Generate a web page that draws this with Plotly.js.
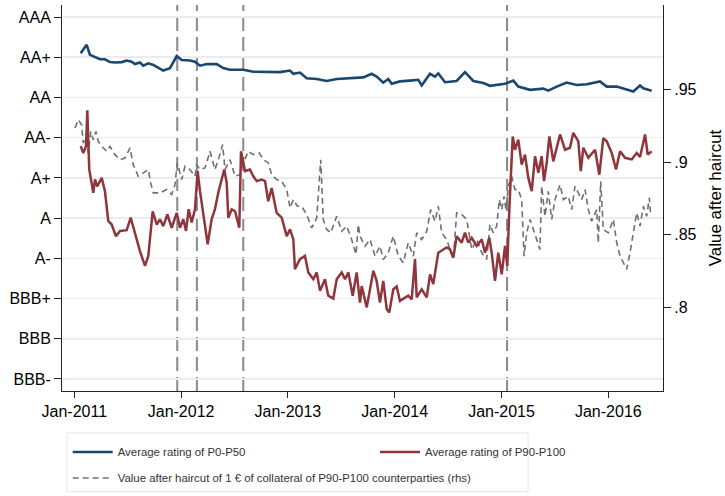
<!DOCTYPE html>
<html>
<head>
<meta charset="utf-8">
<script src="https://cdn.plot.ly/plotly-3.0.1.min.js"></script>
<style>html,body{margin:0;padding:0;background:#fff;}#chart{width:725px;height:496px;}</style>
</head>
<body>
<div id="chart"></div>
<script>
// ---------- data (x in decimal years) ----------
const ratingLabels = ['BBB-','BBB','BBB+','A-','A','A+','AA-','AA','AA+','AAA'];
const ratingValues = [0,1,2,3,4,5,6,7,8,9];
const yearTicks = [2011,2012,2013,2014,2015,2016];
const yearLabels = ['Jan-2011','Jan-2012','Jan-2013','Jan-2014','Jan-2015','Jan-2016'];
const haircutTicks = [0.8,0.85,0.9,0.95];
const haircutLabels = ['.8','.85','.9','.95'];
const eventYears = [2011.964,2012.148,2012.582,2015.052];

const blueX = [2011.060,2011.116,2011.147,2011.241,2011.287,2011.334,2011.381,2011.444,2011.491,2011.537,2011.568,2011.615,2011.646,2011.693,2011.740,2011.802,2011.833,2011.896,2011.959,
2012.006,2012.083,2012.130,2012.177,2012.240,2012.333,2012.395,2012.458,2012.521,2012.582,2012.676,2012.801,2012.926,
2013.019,2013.051,2013.113,2013.176,2013.270,2013.363,2013.457,2013.551,2013.659,2013.706,2013.785,2013.831,2013.893,2013.940,2013.972,
2014.049,2014.143,2014.221,2014.253,2014.330,2014.377,2014.408,2014.471,2014.580,2014.658,2014.736,2014.830,2014.892,
2015.033,2015.111,2015.157,2015.267,2015.391,2015.438,2015.517,2015.610,2015.704,2015.798,2015.922,2015.985,
2016.079,2016.140,2016.234,2016.297,2016.328,2016.406];
const blueRating = [8.10,8.31,8.06,7.95,7.95,7.88,7.87,7.88,7.92,7.89,7.83,7.87,7.79,7.85,7.81,7.73,7.67,7.73,8.03,
7.93,7.92,7.89,7.79,7.83,7.83,7.73,7.69,7.69,7.69,7.64,7.64,7.63,
7.67,7.59,7.62,7.48,7.46,7.41,7.46,7.48,7.50,7.50,7.59,7.52,7.37,7.46,7.34,
7.40,7.42,7.44,7.30,7.59,7.52,7.60,7.38,7.41,7.63,7.41,7.36,7.29,
7.34,7.42,7.27,7.19,7.22,7.17,7.27,7.37,7.31,7.33,7.40,7.27,
7.27,7.23,7.15,7.30,7.23,7.17];

const redX = [2011.060,2011.084,2011.110,2011.122,2011.140,2011.163,2011.178,2011.194,2011.215,2011.241,2011.257,2011.287,2011.318,2011.350,2011.390,2011.428,2011.491,2011.528,2011.559,2011.615,2011.662,2011.693,2011.734,2011.772,2011.802,2011.833,2011.871,2011.912,2011.959,2011.990,
2012.021,2012.046,2012.071,2012.099,2012.130,2012.155,2012.177,2012.208,2012.249,2012.286,2012.317,2012.348,2012.380,2012.404,2012.427,2012.442,2012.474,2012.505,2012.545,2012.561,2012.598,2012.645,2012.676,2012.708,2012.755,2012.786,2012.816,2012.848,2012.895,2012.942,2012.989,
2013.020,2013.051,2013.066,2013.113,2013.160,2013.191,2013.238,2013.270,2013.301,2013.347,2013.378,2013.425,2013.457,2013.504,2013.535,2013.566,2013.607,2013.644,2013.675,2013.691,2013.738,2013.800,2013.831,2013.862,2013.893,2013.925,2013.949,2013.987,
2014.019,2014.049,2014.127,2014.159,2014.190,2014.206,2014.253,2014.300,2014.331,2014.361,2014.408,2014.455,2014.487,2014.518,2014.549,2014.580,2014.627,2014.658,2014.689,2014.721,2014.768,2014.815,2014.845,2014.886,2014.908,2014.939,2014.970,
2015.002,2015.033,2015.054,2015.073,2015.105,2015.126,2015.157,2015.189,2015.220,2015.251,2015.283,2015.314,2015.345,2015.376,2015.398,2015.423,2015.448,2015.485,2015.548,2015.595,2015.641,2015.672,2015.719,2015.742,2015.766,2015.813,2015.876,2015.916,2015.953,2015.985,
2016.032,2016.072,2016.110,2016.156,2016.219,2016.266,2016.297,2016.344,2016.369,2016.406];
const redRating = [5.79,5.62,5.79,6.68,5.21,4.88,4.63,4.96,4.79,4.92,5.00,4.67,3.93,3.84,3.55,3.68,3.70,4.01,3.72,3.18,2.81,3.06,4.17,3.84,3.97,3.80,4.09,3.76,4.13,3.76,
3.97,3.68,4.22,3.89,4.22,5.17,4.67,4.05,3.35,3.97,4.22,4.63,4.96,5.21,4.88,4.01,4.22,4.17,3.76,5.66,5.17,5.21,5.04,4.92,4.96,4.92,4.42,4.75,4.13,4.01,3.55,
3.72,3.47,2.73,2.98,3.06,2.65,2.48,2.65,2.19,2.48,2.07,2.00,2.48,2.65,2.48,2.65,2.07,2.65,1.90,2.31,1.78,2.69,2.44,1.90,2.44,1.74,1.65,2.23,
2.30,1.94,2.07,1.98,2.98,2.03,2.23,2.03,2.60,2.36,3.14,3.22,3.27,3.22,3.02,3.55,3.39,3.64,3.39,3.51,3.31,3.47,3.14,3.51,3.14,2.44,3.14,
2.60,3.31,2.81,4.22,6.03,5.70,5.95,5.33,5.58,5.00,4.67,5.54,5.13,5.54,4.92,5.37,6.03,5.41,6.08,5.70,5.75,6.12,5.91,5.17,5.75,5.50,5.70,5.08,5.99,5.91,
5.62,5.21,5.66,5.50,5.46,5.62,5.52,6.08,5.58,5.66];

const grayX = [2011.007,2011.037,2011.069,2011.084,2011.110,2011.131,2011.154,2011.178,2011.203,2011.225,2011.257,2011.303,2011.334,2011.381,2011.428,2011.475,2011.522,2011.552,2011.599,2011.646,2011.693,2011.715,2011.740,2011.802,2011.865,2011.912,2011.943,2011.964,
2012.006,2012.036,2012.083,2012.130,2012.146,2012.177,2012.224,2012.271,2012.317,2012.358,2012.389,2012.411,2012.458,2012.505,2012.551,2012.582,2012.629,2012.676,2012.732,2012.770,2012.816,2012.848,2012.895,2012.942,2012.989,
2013.020,2013.051,2013.088,2013.129,2013.176,2013.223,2013.270,2013.307,2013.331,2013.363,2013.401,2013.457,2013.504,2013.551,2013.597,2013.638,2013.659,2013.675,2013.722,2013.769,2013.816,2013.862,2013.893,2013.940,2013.987,
2014.034,2014.080,2014.127,2014.174,2014.206,2014.253,2014.300,2014.337,2014.377,2014.408,2014.440,2014.487,2014.549,2014.580,2014.627,2014.674,2014.721,2014.768,2014.815,2014.861,2014.892,2014.923,2014.955,2014.979,
2015.002,2015.023,2015.042,2015.064,2015.095,2015.126,2015.157,2015.189,2015.211,2015.236,2015.267,2015.298,2015.329,2015.360,2015.376,2015.407,2015.438,2015.470,2015.501,2015.548,2015.579,2015.625,2015.657,2015.688,2015.719,2015.751,2015.782,2015.813,2015.844,2015.891,2015.906,2015.929,2015.953,
2016.000,2016.047,2016.079,2016.110,2016.140,2016.172,2016.203,2016.234,2016.266,2016.297,2016.328,2016.359,2016.384,2016.397];
const grayValue = [.9237,.9294,.9259,.9133,.9168,.9065,.9213,.9156,.9213,.9144,.9110,.9076,.9110,.9053,.9018,.9030,.9099,.8984,.8904,.8927,.8950,.8858,.8789,.8789,.8812,.8778,.8846,.8996,
.8881,.8972,.8950,.8904,.8984,.8950,.8961,.9076,.8950,.9041,.9122,.8950,.9018,.8904,.8915,.8996,.9076,.9053,.9065,.9018,.8996,.8915,.8881,.8869,.8812,
.8686,.8743,.8697,.8697,.8640,.8548,.8617,.9018,.8606,.8537,.8514,.8628,.8525,.8560,.8468,.8365,.8571,.8491,.8422,.8468,.8353,.8422,.8330,.8376,.8491,
.8353,.8308,.8445,.8353,.8514,.8468,.8525,.8674,.8594,.8697,.8514,.8468,.8330,.8652,.8640,.8606,.8399,.8468,.8376,.8330,.8571,.8514,.8560,.8743,
.8674,.8766,.8674,.8835,.8904,.8812,.8812,.8743,.8353,.8514,.8606,.8537,.8468,.8399,.8835,.8628,.8800,.8606,.8743,.8846,.8743,.8766,.8674,.8835,.8789,.8743,.8812,.8674,.8594,.8674,.8445,.8869,.8537,
.8514,.8606,.8445,.8353,.8308,.8262,.8376,.8514,.8652,.8560,.8697,.8628,.8755,.8628];

// ---------- chart ----------
const tickFont = {family: "'Liberation Sans', Arial, sans-serif", size: 16, color: '#000'};
const legendFont = {family: "'Liberation Sans', Arial, sans-serif", size: 11.4, color: '#333'};

const traces = [
  {x: grayX, y: grayValue, type: 'scatter', mode: 'lines', yaxis: 'y', legend: 'legend3',
   name: 'Value after haircut of 1 € of collateral of P90-P100 counterparties (rhs)',
   line: {color: '#707070', width: 1.6, dash: '6px,4px'}},
  {x: blueX, y: blueRating, type: 'scatter', mode: 'lines', yaxis: 'y2', legend: 'legend',
   name: 'Average rating of P0-P50', line: {color: '#1a476f', width: 2.6}},
  {x: redX, y: redRating, type: 'scatter', mode: 'lines', yaxis: 'y2', legend: 'legend2',
   name: 'Average rating of P90-P100', line: {color: '#90353b', width: 2.5}}
];

const shapes = eventYears.map(ev => ({
  type: 'line', xref: 'x', yref: 'paper', x0: ev, x1: ev, y0: 0, y1: 1, layer: 'below',
  line: {color: '#8a8a8a', width: 2, dash: '14px,6px'}
}));
shapes.push({type: 'rect', xref: 'paper', yref: 'paper', x0: 0.0083, x1: 0.7754, y0: -0.261, y1: -0.1085,
  line: {color: '#e2e6ea', width: 1}, fillcolor: 'rgba(0,0,0,0)', layer: 'below'});

const legendBase = {orientation: 'v', xanchor: 'left', yanchor: 'middle', bgcolor: 'rgba(0,0,0,0)',
  borderwidth: 0, font: legendFont, itemwidth: 40};

const layout = {
  width: 725, height: 496,
  margin: {l: 62, r: 62, t: 5, b: 104, pad: 0},
  paper_bgcolor: '#fff', plot_bgcolor: '#fff',
  showlegend: true,
  xaxis: {range: [2010.885, 2016.512], tickvals: yearTicks, ticktext: yearLabels,
    showgrid: false, zeroline: false, showline: true, linecolor: '#222', linewidth: 1,
    ticks: 'outside', ticklen: 6, tickcolor: '#222', tickfont: tickFont, automargin: false},
  yaxis: {side: 'right', range: [0.7423, 1.0085], tickvals: haircutTicks, ticktext: haircutLabels,
    showgrid: false, zeroline: false, showline: true, linecolor: '#222', linewidth: 1,
    ticks: 'outside', ticklen: 7, tickcolor: '#222', tickfont: tickFont, automargin: false,
    title: {text: 'Value after haircut', font: {family: "'Liberation Sans', Arial, sans-serif", size: 17, color: '#000'}, standoff: 14}},
  yaxis2: {side: 'left', overlaying: 'y', range: [-0.3, 9.3], tickvals: ratingValues, ticktext: ratingLabels,
    showgrid: true, gridcolor: '#e9edf2', gridwidth: 1.6, zeroline: false, showline: true, linecolor: '#222', linewidth: 1,
    ticks: 'outside', ticklen: 7, tickcolor: '#222', tickfont: tickFont, automargin: false},
  legend: Object.assign({}, legendBase, {x: 0.0095, y: -0.155}),
  legend2: Object.assign({}, legendBase, {x: 0.5208, y: -0.155}),
  legend3: Object.assign({}, legendBase, {x: 0.0095, y: -0.2222}),
  shapes: shapes
};

Plotly.newPlot('chart', traces, layout, {staticPlot: true, displayModeBar: false});
</script>
</body>
</html>
